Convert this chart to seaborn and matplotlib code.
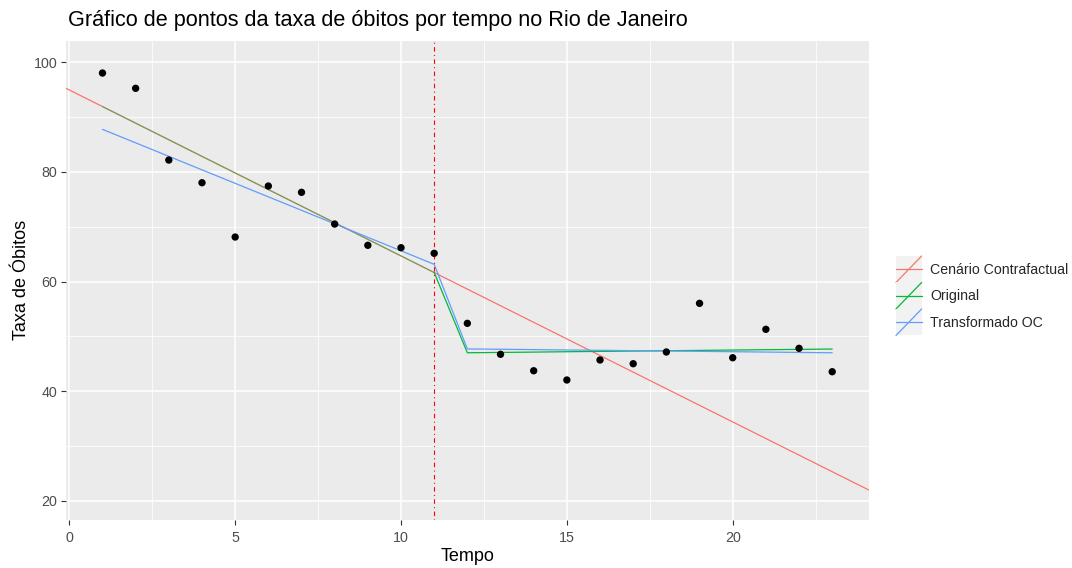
import numpy as np
import pandas as pd
import matplotlib
matplotlib.use("Agg")
import matplotlib.pyplot as plt
from matplotlib.legend_handler import HandlerBase
from matplotlib.lines import Line2D
from matplotlib.patches import Rectangle
from matplotlib.ticker import MultipleLocator
import seaborn as sns

# Observed death rate per period (Rio de Janeiro)
tempo = list(range(1, 24))
taxa_obitos = [98.05, 95.26, 82.17, 78.03, 68.12, 77.43, 76.28, 70.49, 66.61, 66.17,
               65.15, 52.37, 46.72, 43.72, 42.03, 45.68, 45.00, 47.14, 56.02, 46.09,
               51.28, 47.81, 43.54]

# Fitted values of the interrupted time-series models
ajuste_original = [91.93, 88.90, 85.87, 82.84, 79.81, 76.79, 73.76, 70.73, 67.70, 64.67,
                   61.64, 47.00, 47.06, 47.12, 47.19, 47.25, 47.31, 47.37, 47.43, 47.50,
                   47.56, 47.62, 47.68]
ajuste_transformado = [87.77, 85.31, 82.85, 80.38, 77.92, 75.46, 73.00, 70.53, 68.07, 65.61,
                       63.14, 47.70, 47.64, 47.57, 47.51, 47.45, 47.38, 47.32, 47.26, 47.19,
                       47.13, 47.06, 47.00]

# Counterfactual trend (pre-intervention line extended)
contrafactual_intercepto = 94.96
contrafactual_inclinacao = -3.029

intervencao = 11

series = ["Cenário Contrafactual", "Original", "Transformado OC"]
cores = ["#F8766D", "#00BA38", "#619CFF"]

sns.set_theme(style="darkgrid", rc={
    "axes.facecolor": "#EBEBEB",
    "grid.color": "white",
    "axes.edgecolor": "#EBEBEB",
})
plt.rcParams["font.family"] = ["Liberation Sans", "DejaVu Sans"]

fig = plt.figure(figsize=(10.72, 5.68), dpi=100)
W, H = 1072, 568
left, right, top, bottom = 66, 868.7, 40.7, 520
ax = fig.add_axes([left / W, 1 - bottom / H, (right - left) / W, (bottom - top) / H])

df = pd.DataFrame({"tempo": tempo, "taxa": taxa_obitos,
                   "original": ajuste_original, "transformado": ajuste_transformado})

# Counterfactual line across the full panel
ax.axline((0, contrafactual_intercepto), slope=contrafactual_inclinacao,
          color=cores[0], lw=0.9, zorder=2)

# Original model: pre-intervention part sits on top of the counterfactual line
pre = df[df["tempo"] <= intervencao]
pos = df[df["tempo"] >= intervencao]
sns.lineplot(data=pre, x="tempo", y="original", color=cores[1], lw=0.9, alpha=0.5,
             ax=ax, zorder=3)
sns.lineplot(data=pos, x="tempo", y="original", color=cores[1], lw=0.9, ax=ax, zorder=3)
sns.lineplot(data=df, x="tempo", y="transformado", color=cores[2], lw=0.9, ax=ax, zorder=3)

ax.axvline(intervencao, color="red", lw=0.8, linestyle=(0, (1, 3, 4, 3)), zorder=4)

sns.scatterplot(data=df, x="tempo", y="taxa", color="black", s=28, edgecolor="none",
                ax=ax, zorder=5)

ax.set_xlim(-0.1, 24.1)
ax.set_ylim(16.48, 103.95)
ax.xaxis.set_major_locator(MultipleLocator(5))
ax.xaxis.set_minor_locator(MultipleLocator(2.5))
ax.yaxis.set_major_locator(MultipleLocator(20))
ax.yaxis.set_minor_locator(MultipleLocator(10))
ax.grid(which="major", color="white", lw=1.1)
ax.grid(which="minor", color="white", lw=0.55)
ax.tick_params(which="major", length=3.6, width=0.8, color="#333333",
               labelsize=10.3, labelcolor="#4D4D4D", bottom=True, left=True)
ax.tick_params(axis="x", which="major", pad=4.5)
ax.tick_params(axis="y", which="major", pad=2.5)
ax.tick_params(which="minor", length=0)
for s in ax.spines.values():
    s.set_visible(False)

ax.set_xlabel("Tempo", fontsize=13, color="black", labelpad=2)
ax.set_ylabel("Taxa de Óbitos", fontsize=13, color="black", labelpad=2.5)
fig.text(left / W + 0.0015, 1 - 26 / H, "Gráfico de pontos da taxa de óbitos por tempo no Rio de Janeiro",
         fontsize=15.6, color="black", ha="left", va="baseline")


class ChaveLegenda(HandlerBase):
    def create_artists(self, legend, orig_handle, xdescent, ydescent, width, height,
                       fontsize, trans):
        x0, y0 = -xdescent, -ydescent
        fundo = Rectangle((x0, y0), width, height, facecolor="#F2F2F2",
                          edgecolor="none", transform=trans)
        cor = orig_handle.get_color()
        horiz = Line2D([x0, x0 + width], [y0 + height / 2] * 2, color=cor, lw=0.9,
                       transform=trans)
        diag = Line2D([x0, x0 + width], [y0, y0 + height], color=cor, lw=0.9,
                      transform=trans)
        return [fundo, horiz, diag]


handles = [Line2D([], [], color=c) for c in cores]
fig.legend(handles, series, handler_map={Line2D: ChaveLegenda()},
           loc="upper left", bbox_to_anchor=(896 / W, 1 - 256 / H),
           bbox_transform=fig.transFigure, frameon=False, fontsize=10.2,
           handlelength=1.81, handleheight=2.5, labelspacing=0.0,
           handletextpad=0.59, borderpad=0, borderaxespad=0)

fig.savefig("out.png", dpi=100)
